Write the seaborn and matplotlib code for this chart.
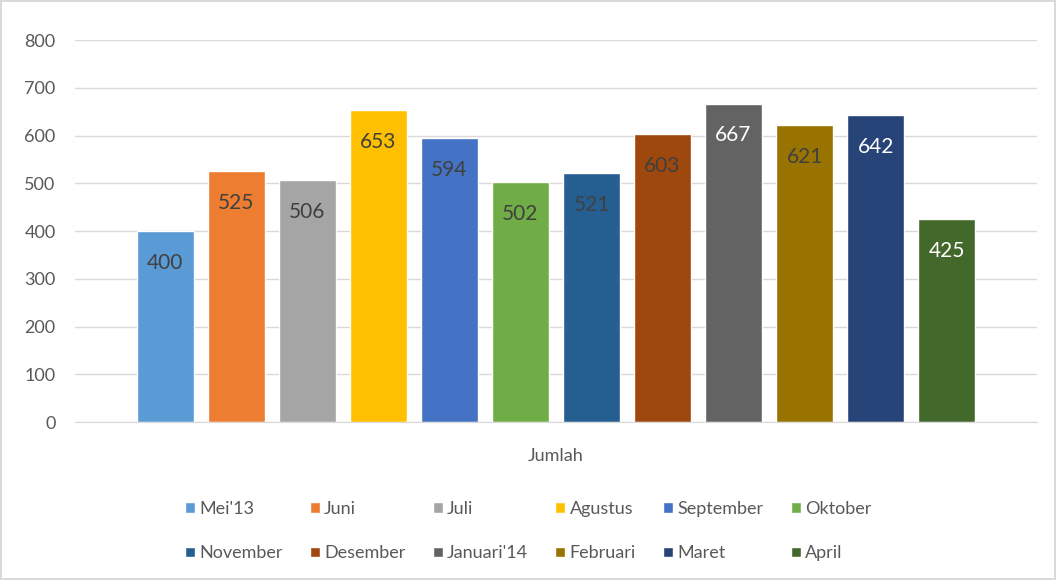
import pandas as pd
import matplotlib.pyplot as plt
import seaborn as sns

# --- データ ---
months = ["Mei'13", "Juni", "Juli", "Agustus", "September", "Oktober",
          "November", "Desember", "Januari'14", "Februari", "Maret", "April"]
jumlah = [400, 525, 506, 653, 594, 502, 521, 603, 667, 621, 642, 425]
colors = ["#5B9BD5", "#ED7D31", "#A5A5A5", "#FFC000", "#4472C4", "#70AD47",
          "#255E91", "#9E480E", "#636363", "#997300", "#264478", "#43682B"]
label_colors = ["#404040"] * 8 + ["#FFFFFF", "#404040", "#FFFFFF", "#FFFFFF"]


def main():
    df = pd.DataFrame({'Kategori': 'Jumlah', 'Bulan': months, 'Jumlah': jumlah})

    sns.set_style('white')
    plt.rcParams['font.family'] = ['Lato', 'DejaVu Sans']

    fig = plt.figure(figsize=(10.56, 5.8), dpi=100)
    fig.patch.set_edgecolor('#D9D9D9')
    fig.patch.set_linewidth(1.5)
    ax = fig.add_axes([0.071, 0.2724, 0.911, 0.6586])

    sns.barplot(data=df, x='Kategori', y='Jumlah', hue='Bulan', hue_order=months,
                palette=colors, width=0.886, gap=0.2, ax=ax, legend=True,
                saturation=1, errorbar=None)

    # データラベル (バーの内側上部)
    for cont, c in zip(ax.containers, label_colors):
        texts = ax.bar_label(cont, padding=-30, fontsize=15)
        for t in texts:
            t.set_color(c)

    ax.set_ylim(0, 800)
    ax.set_yticks(range(0, 801, 100))
    ax.set_xlim(-0.5, 0.5)
    ax.yaxis.grid(True, color='#D9D9D9', linewidth=1)
    ax.set_axisbelow(True)
    for s in ['top', 'right', 'left']:
        ax.spines[s].set_visible(False)
    ax.spines['bottom'].set_color('#D9D9D9')
    ax.tick_params(axis='y', colors='#595959', labelsize=13, length=0, pad=14)
    ax.tick_params(axis='x', length=0)
    ax.set_xticklabels([''])
    ax.set_xlabel('Jumlah', fontsize=13, color='#595959', labelpad=15)
    ax.set_ylabel('')

    # 凡例 (2行6列, 行優先で並べる)
    handles, labels = ax.get_legend_handles_labels()
    order = [i // 2 + (i % 2) * 6 for i in range(12)]
    ax.legend([handles[i] for i in order], [labels[i] for i in order],
              ncol=6, loc='upper center', bbox_to_anchor=(0.471, -0.163),
              frameon=False, fontsize=13, labelcolor='#595959',
              handlelength=0.55, handleheight=0.55, handletextpad=0.25,
              columnspacing=1.5, labelspacing=1.6)

    fig.savefig('out.png', dpi=100)


if __name__ == "__main__":
    main()
